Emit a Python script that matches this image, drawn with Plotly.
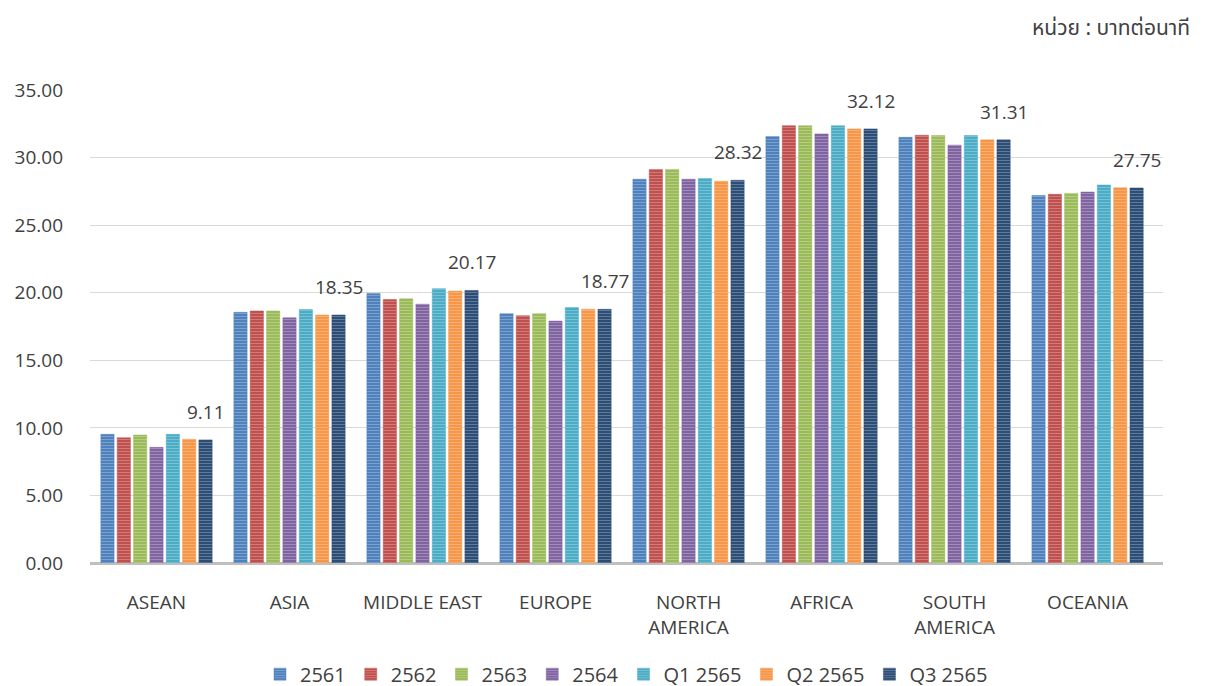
import plotly.graph_objects as go

regions = ["ASEAN", "ASIA", "MIDDLE EAST", "EUROPE", "NORTH<br>AMERICA",
           "AFRICA", "SOUTH<br>AMERICA", "OCEANIA"]

v2561 = [9.52, 18.55, 19.95, 18.45, 28.40, 31.55, 31.50, 27.20]
v2562 = [9.27, 18.65, 19.50, 18.30, 29.12, 32.36, 31.65, 27.28]
v2563 = [9.47, 18.65, 19.55, 18.45, 29.12, 32.36, 31.63, 27.35]
v2564 = [8.56, 18.15, 19.15, 17.90, 28.40, 31.75, 30.92, 27.45]
q1_2565 = [9.52, 18.75, 20.30, 18.90, 28.45, 32.36, 31.63, 27.97]
q2_2565 = [9.15, 18.35, 20.12, 18.78, 28.25, 32.12, 31.31, 27.77]
q3_2565 = [9.11, 18.35, 20.17, 18.77, 28.32, 32.12, 31.31, 27.75]

series = [
    ("2561", v2561, "#4F81BD"),
    ("2562", v2562, "#C0504D"),
    ("2563", v2563, "#9BBB59"),
    ("2564", v2564, "#8064A2"),
    ("Q1 2565", q1_2565, "#4BACC6"),
    ("Q2 2565", q2_2565, "#F79646"),
    ("Q3 2565", q3_2565, "#2C4D75"),
]

font_main = "Open Sans, Noto Sans, sans-serif"
text_col = "#404040"

W, H = 1205, 686
ml, mt, plot_w, plot_h = 82, 82, 1073, 473   # page adds ~8px body margin
bargap = 0.14
slot = plot_w / len(regions) * (1 - bargap) / len(series)
q3_shift = slot * (len(series) - 1) / 2

fig = go.Figure()
for name, vals, col in series:
    fig.add_trace(go.Bar(
        x=regions, y=vals, name=name,
        marker=dict(color=col,
                    line=dict(color=col, width=0.5),
                    pattern=dict(shape="-", size=3, solidity=0.35,
                                 fgcolor="rgba(255,255,255,0.5)",
                                 fillmode="overlay")),
    ))

# value labels on the Q3 2565 bars
labels = [dict(x=r, y=v, text="%.2f" % v, xref="x", yref="y",
               xshift=q3_shift, yshift=13, yanchor="bottom", showarrow=False,
               font=dict(size=19, color=text_col, family=font_main))
          for r, v in zip(regions, q3_2565)]

labels.append(dict(text="หน่วย : บาทต่อนาที", xref="paper", yref="paper",
                   x=1.027, y=1.131, xanchor="right", yanchor="middle",
                   showarrow=False,
                   font=dict(size=21, color=text_col,
                             family="Tahoma, Noto Sans Thai, Loma, sans-serif")))

fig.update_layout(
    width=W, height=H,
    barmode="group", bargap=bargap, bargroupgap=0.19,
    margin=dict(l=ml, r=W - ml - plot_w, t=mt, b=H - mt - plot_h, autoexpand=False),
    paper_bgcolor="white", plot_bgcolor="white",
    font=dict(family=font_main, size=19, color=text_col),
    showlegend=True,
    legend=dict(orientation="h", x=0.5, xanchor="center", y=-0.235, yanchor="middle",
                font=dict(size=20, color=text_col), itemwidth=30, traceorder="normal"),
    annotations=labels,
)
fig.update_yaxes(range=[0, 35], dtick=5, tickformat=".2f",
                 showgrid=True, gridcolor="#D9D9D9", gridwidth=1,
                 zeroline=True, zerolinecolor="#BFBFBF", zerolinewidth=3,
                 ticks="", ticklabelstandoff=26, tickfont=dict(size=19),
                 automargin=False)
fig.update_xaxes(showline=False, ticks="", tickfont=dict(size=19), tickangle=0,
                 ticklabelstandoff=26, automargin=False)

fig.write_html("out.html")
